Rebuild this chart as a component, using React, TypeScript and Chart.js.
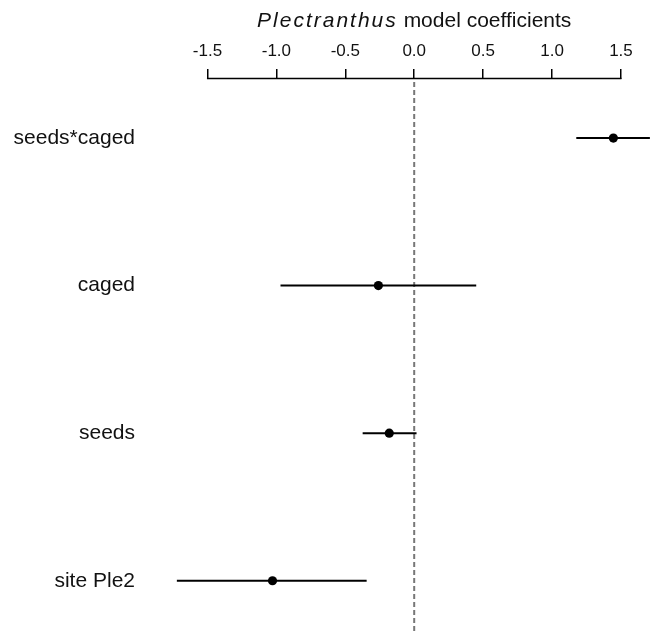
import React, { useEffect, useRef } from "react";
import { Chart, registerables } from "chart.js";

Chart.register(...registerables);

const rowLabels = ["seeds*caged", "caged", "seeds", "site Ple2"];
const rowPos = [4, 3, 2, 1];
const estimates = [1.445, -0.26, -0.181, -1.028];
const lower = [1.176, -0.97, -0.374, -1.722];
const upper = [1.71, 0.45, 0.017, -0.345];
const xTicks = [-1.5, -1.0, -0.5, 0.0, 0.5, 1.0, 1.5];
const titleItalic = "Plectranthus";
const titleRest = "model coefficients";

const FONT = "'Liberation Sans', Arial, sans-serif";

const decorPlugin = {
  id: "decor",
  beforeDatasetsDraw(chart: any) {
    const { ctx, chartArea, scales } = chart;
    const x0 = scales.x.getPixelForValue(0);
    ctx.save();
    ctx.strokeStyle = "#777777";
    ctx.lineWidth = 2;
    ctx.setLineDash([5, 3]);
    ctx.beginPath();
    ctx.moveTo(x0, chartArea.top + 3);
    ctx.lineTo(x0, chart.height);
    ctx.stroke();
    ctx.restore();
  },
  afterDraw(chart: any) {
    const { ctx, chartArea, scales } = chart;
    const xs = scales.x;
    const a = xs.getPixelForValue(xTicks[0]);
    const b = xs.getPixelForValue(xTicks[xTicks.length - 1]);
    ctx.save();
    ctx.strokeStyle = "#000";
    ctx.lineWidth = 1.5;
    ctx.beginPath();
    ctx.moveTo(a - 0.5, chartArea.top - 0.5);
    ctx.lineTo(b + 0.5, chartArea.top - 0.5);
    ctx.stroke();

    // title
    ctx.fillStyle = "#111";
    ctx.textBaseline = "alphabetic";
    ctx.textAlign = "left";
    ctx.font = `italic 21px ${FONT}`;
    (ctx as any).letterSpacing = "2px";
    const w1 = ctx.measureText(titleItalic).width;
    ctx.font = `21px ${FONT}`;
    (ctx as any).letterSpacing = "0px";
    const space = ctx.measureText(" ").width;
    const w2 = ctx.measureText(titleRest).width;
    const total = w1 + space + w2;
    const cx = (a + b) / 2;
    const x = cx - total / 2;
    const y = 26.5;
    ctx.font = `italic 21px ${FONT}`;
    (ctx as any).letterSpacing = "2px";
    ctx.fillText(titleItalic, x, y);
    (ctx as any).letterSpacing = "0px";
    ctx.font = `21px ${FONT}`;
    ctx.fillText(titleRest, x + w1 + space, y);
    ctx.restore();
  },
};

export default function App() {
  const ref = useRef<HTMLCanvasElement | null>(null);

  useEffect(() => {
    document.body.style.margin = "0";
    if (!ref.current) return;

    const barSets = rowPos.map((p, i) => ({
      type: "line" as const,
      label: rowLabels[i],
      data: [
        { x: lower[i], y: p },
        { x: upper[i], y: p },
      ],
      borderColor: "#000",
      borderWidth: 2,
      pointRadius: 0,
      fill: false,
    }));

    const chart = new Chart(ref.current, {
      type: "scatter",
      data: {
        datasets: [
          ...barSets,
          {
            type: "scatter" as const,
            label: "estimate",
            data: rowPos.map((p, i) => ({ x: estimates[i], y: p })),
            backgroundColor: "#000",
            borderColor: "#000",
            pointRadius: 4.6,
            borderWidth: 0,
          },
        ] as any,
      },
      options: {
        animation: false,
        responsive: false,
        maintainAspectRatio: false,
        layout: { padding: { left: 0, right: 3, top: 0, bottom: 0 } },
        plugins: {
          legend: { display: false },
          tooltip: { enabled: false },
          title: { display: false },
        },
        scales: {
          x: {
            type: "linear",
            position: "top",
            min: -1.75,
            max: 1.75,
            afterBuildTicks: (scale: any) => {
              scale.ticks = xTicks.map((v) => ({ value: v }));
            },
            afterFit: (scale: any) => {
              scale.height = 79;
              scale.paddingLeft = 0;
              scale.paddingRight = 0;
            },
            ticks: {
              callback: (v: any) => Number(v).toFixed(1),
              font: { family: FONT, size: 17 },
              color: "#111",
              padding: 7,
              maxRotation: 0,
              autoSkip: false,
            },
            grid: {
              display: true,
              drawOnChartArea: false,
              drawTicks: true,
              tickLength: 10,
              color: "#000",
              lineWidth: 1.5,
            },
            border: { display: false },
          },
          y: {
            type: "linear",
            min: 0.684,
            max: 4.4,
            afterBuildTicks: (scale: any) => {
              scale.ticks = rowPos.map((v) => ({ value: v }));
            },
            afterFit: (scale: any) => {
              scale.width = 173;
              scale.paddingTop = 0;
              scale.paddingBottom = 0;
            },
            ticks: {
              callback: (v: any) => rowLabels[rowPos.indexOf(Number(v))] ?? "",
              font: { family: FONT, size: 21 },
              color: "#111",
              padding: 38,
              autoSkip: false,
            },
            grid: { display: false, drawTicks: false },
            border: { display: false },
          },
        },
      },
      plugins: [decorPlugin],
    });

    return () => chart.destroy();
  }, []);

  return (
    <div style={{ width: 660, height: 632, background: "#fff" }}>
      <canvas ref={ref} width={660} height={632} style={{ display: "block" }} />
    </div>
  );
}
